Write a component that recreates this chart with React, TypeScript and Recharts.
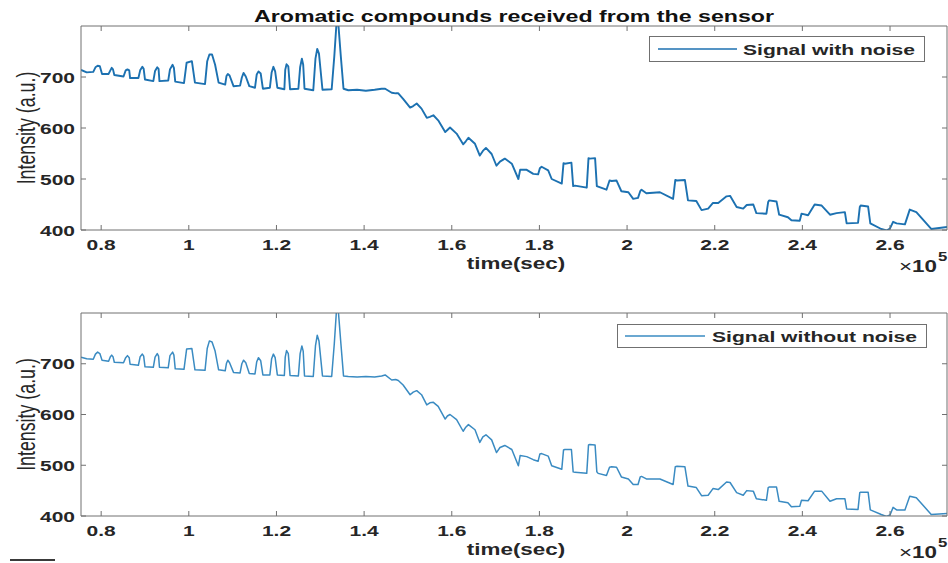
import { LineChart, Line, XAxis, YAxis, Legend } from 'recharts'

// time axis is in units of 1e5 s (the figure shows "x10^5")
const timeE5 = [
  0.754, 0.767, 0.782, 0.787, 0.792, 0.797, 0.802, 0.817, 0.821, 0.824,
  0.827, 0.83, 0.851, 0.856, 0.86, 0.864, 0.866, 0.885, 0.889, 0.894,
  0.897, 0.9, 0.919, 0.923, 0.928, 0.931, 0.933, 0.953, 0.957, 0.963,
  0.966, 0.969, 0.989, 0.995, 1.007, 1.014, 1.037, 1.042, 1.047, 1.053,
  1.06, 1.068, 1.083, 1.086, 1.089, 1.093, 1.102, 1.117, 1.121, 1.125,
  1.13, 1.138, 1.151, 1.155, 1.159, 1.164, 1.169, 1.185, 1.189, 1.193,
  1.197, 1.202, 1.218, 1.22, 1.223, 1.227, 1.231, 1.25, 1.254, 1.258,
  1.261, 1.264, 1.284, 1.289, 1.293, 1.297, 1.305, 1.326, 1.332, 1.337,
  1.341, 1.347, 1.353, 1.364, 1.384, 1.404, 1.424, 1.44, 1.448, 1.463,
  1.472, 1.478, 1.489, 1.505, 1.512, 1.52, 1.531, 1.543, 1.55, 1.558,
  1.569, 1.585, 1.59, 1.596, 1.611, 1.626, 1.632, 1.638, 1.653, 1.664,
  1.671, 1.678, 1.691, 1.702, 1.71, 1.721, 1.737, 1.752, 1.756, 1.771,
  1.786, 1.797, 1.801, 1.805, 1.82, 1.828, 1.851, 1.855, 1.858, 1.873,
  1.877, 1.881, 1.908, 1.912, 1.915, 1.927, 1.931, 1.934, 1.953, 1.96,
  1.965, 1.976, 1.987, 2.003, 2.014, 2.025, 2.03, 2.033, 2.044, 2.075,
  2.105, 2.11, 2.114, 2.132, 2.139, 2.158, 2.17, 2.185, 2.196, 2.208,
  2.227, 2.235, 2.25, 2.265, 2.273, 2.288, 2.295, 2.318, 2.322, 2.324,
  2.341, 2.347, 2.367, 2.375, 2.394, 2.398, 2.413, 2.428, 2.444, 2.463,
  2.478, 2.497, 2.501, 2.527, 2.531, 2.533, 2.55, 2.555, 2.58, 2.592,
  2.6, 2.607, 2.615, 2.634, 2.645, 2.66, 2.694, 2.732,
]

const noisyIntensity = [
  714, 709, 710, 719, 722, 721, 706, 706, 713, 718,
  715, 704, 701, 713, 715, 713, 698, 698, 713, 720,
  716, 695, 692, 712, 719, 716, 692, 693, 715, 724,
  718, 691, 688, 728, 731, 689, 686, 731, 744, 744,
  724, 689, 685, 702, 706, 703, 682, 683, 699, 708,
  701, 682, 679, 705, 711, 707, 677, 679, 709, 720,
  711, 679, 676, 714, 725, 721, 676, 677, 719, 736,
  724, 677, 674, 736, 755, 746, 675, 676, 741, 806,
  806, 739, 677, 674, 675, 673, 675, 677, 677, 669,
  668, 668, 657, 640, 643, 648, 638, 620, 622, 625,
  615, 592, 596, 601, 589, 568, 574, 581, 569, 546,
  555, 561, 549, 526, 534, 540, 530, 500, 518, 518,
  510, 509, 521, 524, 517, 500, 491, 531, 530, 532,
  486, 487, 483, 541, 540, 541, 486, 485, 479, 497,
  496, 497, 476, 474, 461, 463, 476, 479, 472, 474,
  461, 498, 497, 498, 458, 457, 439, 442, 453, 453,
  466, 467, 445, 442, 449, 450, 433, 432, 455, 458,
  456, 430, 425, 419, 418, 432, 429, 450, 448, 430,
  433, 435, 413, 414, 445, 448, 446, 413, 402, 399,
  403, 416, 413, 411, 440, 435, 402, 406,
]

const cleanIntensity = [
  713, 710, 709, 719, 723, 720, 707, 705, 714, 717,
  714, 703, 702, 712, 716, 712, 699, 697, 714, 719,
  715, 694, 693, 713, 720, 715, 693, 692, 716, 723,
  717, 690, 689, 729, 730, 688, 687, 730, 745, 743,
  725, 688, 686, 701, 707, 702, 683, 682, 700, 707,
  702, 681, 680, 704, 712, 706, 678, 678, 710, 719,
  712, 678, 677, 713, 726, 720, 677, 676, 720, 735,
  725, 676, 675, 735, 756, 745, 676, 675, 740, 806,
  806, 740, 676, 675, 674, 675, 674, 676, 678, 668,
  669, 667, 658, 639, 644, 647, 639, 619, 623, 624,
  616, 591, 597, 600, 590, 567, 575, 580, 570, 545,
  556, 560, 550, 525, 535, 539, 531, 499, 519, 517,
  511, 508, 522, 523, 518, 499, 492, 530, 531, 531,
  487, 486, 484, 540, 541, 540, 487, 484, 480, 496,
  497, 496, 477, 473, 462, 462, 477, 478, 473, 473,
  462, 497, 498, 497, 459, 456, 440, 441, 454, 452,
  467, 466, 446, 441, 450, 449, 434, 431, 456, 457,
  457, 429, 426, 418, 419, 431, 430, 449, 449, 429,
  434, 434, 414, 413, 446, 447, 447, 412, 403, 399,
  402, 417, 412, 412, 439, 436, 403, 405,
]

const timeTicks = [0.8, 1, 1.2, 1.4, 1.6, 1.8, 2, 2.2, 2.4, 2.6]
const intensityTicks = [400, 500, 600, 700]
const timeDomain = [0.754, 2.73]
const intensityDomain = [400, 800]

const TITLE = 'Aromatic compounds received from the sensor'

const noisyData = timeE5.map((t, i) => ({ t, v: noisyIntensity[i] }))
const cleanData = timeE5.map((t, i) => ({ t, v: cleanIntensity[i] }))

// the original figure is stretched sideways, so text is widened to match
const STRETCH = 1.4
const FONT = '"Liberation Sans", Arial, Helvetica, sans-serif'
const INK = '#262626'
const AXIS = '#707070'
const TICK_LEN = 5

const BottomTick = ({ x, y, payload }: any) => (
  <g>
    <line x1={x} y1={y} x2={x} y2={y - TICK_LEN} stroke={AXIS} />
    <text
      transform={`translate(${x},${y + 20}) scale(${STRETCH},1)`}
      textAnchor="middle"
      fontFamily={FONT}
      fontSize={15}
      fontWeight="bold"
      fill={INK}
    >
      {String(payload.value)}
    </text>
  </g>
)

const TopTick = ({ x, y }: any) => (
  <line x1={x} y1={y} x2={x} y2={y + TICK_LEN} stroke={AXIS} />
)

const LeftTick = ({ x, y, payload }: any) => (
  <g>
    <line x1={x} y1={y} x2={x + TICK_LEN} y2={y} stroke={AXIS} />
    <text
      transform={`translate(${x - 6},${y + 5.5}) scale(${STRETCH},1)`}
      textAnchor="end"
      fontFamily={FONT}
      fontSize={15}
      fontWeight="bold"
      fill={INK}
    >
      {String(payload.value)}
    </text>
  </g>
)

const RightTick = ({ x, y }: any) => (
  <line x1={x} y1={y} x2={x - TICK_LEN} y2={y} stroke={AXIS} />
)

const TitleLabel = ({ viewBox }: any) => (
  <text
    x={viewBox.x + viewBox.width / 2}
    y={viewBox.y + viewBox.height - 4.5}
    textAnchor="middle"
    fontFamily={FONT}
    fontSize={16}
    fontWeight="bold"
    fill="#111"
    textLength={520}
    lengthAdjust="spacingAndGlyphs"
  >
    {TITLE}
  </text>
)

const TimeLabel = ({ viewBox }: any) => {
  const cx = viewBox.x + viewBox.width / 2
  const right = viewBox.x + viewBox.width
  return (
    <g fontFamily={FONT} fill={INK}>
      <text
        transform={`translate(${cx + 2},${viewBox.y + 39}) scale(${STRETCH},1)`}
        textAnchor="middle"
        fontSize={16}
        fontWeight="bold"
      >
        time(sec)
      </text>
      <text
        transform={`translate(${right - 10},${viewBox.y + 42}) scale(${STRETCH},1)`}
        textAnchor="end"
        fontSize={16}
      >
        ×<tspan fontWeight="bold">10</tspan>
      </text>
      <text
        transform={`translate(${right - 9},${viewBox.y + 31}) scale(${STRETCH},1)`}
        fontSize={12}
        fontWeight="bold"
      >
        5
      </text>
    </g>
  )
}

const IntensityLabel = ({ viewBox }: any) => (
  <text
    transform={`translate(35,${viewBox.y + viewBox.height / 2}) scale(${STRETCH},1) rotate(-90)`}
    textAnchor="middle"
    fontFamily={FONT}
    fontSize={17.8}
    fill={INK}
  >
    Intensity (a.u.)
  </text>
)

const LegendBox = ({ payload, box }: any) => {
  const item = payload?.[0]
  return (
    <svg width={box.width} height={box.height} style={{ display: 'block' }}>
      <rect
        x={0.5}
        y={0.5}
        width={box.width - 1}
        height={box.height - 1}
        fill="#fff"
        stroke={AXIS}
      />
      <line
        x1={box.lineFrom}
        x2={box.lineTo}
        y1={box.height / 2}
        y2={box.height / 2}
        stroke={item?.color}
        strokeWidth={1.3}
      />
      <text
        x={box.textX}
        y={box.baseline}
        fontFamily={FONT}
        fontSize={15}
        fontWeight="bold"
        fill={INK}
        textLength={box.textWidth}
        lengthAdjust="spacingAndGlyphs"
      >
        {item?.value}
      </text>
    </svg>
  )
}

// axes are 1px thick so Recharts draws them; the margins are reduced by the same pixel
function Panel({ data, name, color, strokeWidth, height, margin, box, title }: any) {
  return (
    <LineChart width={948} height={height} data={data} margin={margin}>
      <XAxis
        xAxisId="top"
        orientation="top"
        type="number"
        dataKey="t"
        domain={timeDomain}
        ticks={timeTicks}
        interval={0}
        height={1}
        tickSize={0}
        tickMargin={0}
        tickLine={false}
        axisLine={{ stroke: AXIS }}
        tick={TopTick}
        allowDataOverflow
        label={title ? <TitleLabel /> : undefined}
      />
      <XAxis
        xAxisId="bottom"
        orientation="bottom"
        type="number"
        dataKey="t"
        domain={timeDomain}
        ticks={timeTicks}
        interval={0}
        height={1}
        tickSize={0}
        tickMargin={0}
        tickLine={false}
        axisLine={{ stroke: AXIS }}
        tick={BottomTick}
        allowDataOverflow
        label={<TimeLabel />}
      />
      <YAxis
        yAxisId="left"
        orientation="left"
        type="number"
        domain={intensityDomain}
        ticks={intensityTicks}
        interval={0}
        width={1}
        tickSize={0}
        tickMargin={0}
        tickLine={false}
        axisLine={{ stroke: AXIS }}
        tick={LeftTick}
        allowDataOverflow
        label={<IntensityLabel />}
      />
      <YAxis
        yAxisId="right"
        orientation="right"
        type="number"
        domain={intensityDomain}
        ticks={intensityTicks}
        interval={0}
        width={1}
        tickSize={0}
        tickMargin={0}
        tickLine={false}
        axisLine={{ stroke: AXIS }}
        tick={RightTick}
        allowDataOverflow
      />
      <Legend
        layout="vertical"
        align="center"
        verticalAlign="middle"
        wrapperStyle={{ left: box.left, top: box.top, width: box.width, height: box.height }}
        content={(props: any) => <LegendBox payload={props.payload} box={box} />}
      />
      <Line
        xAxisId="bottom"
        yAxisId="left"
        type="linear"
        dataKey="v"
        name={name}
        stroke={color}
        strokeWidth={strokeWidth}
        strokeLinejoin="round"
        dot={false}
        activeDot={false}
        isAnimationActive={false}
      />
    </LineChart>
  )
}

const topLegend = {
  left: 649, top: 36, width: 276, height: 26,
  lineFrom: 9, lineTo: 88, textX: 94, baseline: 19, textWidth: 172,
}
const bottomLegend = {
  left: 617, top: 38, width: 310, height: 24,
  lineFrom: 8, lineTo: 88, textX: 95, baseline: 17.7, textWidth: 205,
}

export default function App() {
  return (
    <div
      style={{
        position: 'absolute',
        left: 0,
        top: 0,
        width: 948,
        height: 563,
        background: '#fff',
        overflow: 'hidden',
      }}
    >
      <div style={{ position: 'absolute', left: 0, top: 0 }}>
        <Panel
          data={noisyData}
          name="Signal with noise"
          color="#1c71b1"
          strokeWidth={1.9}
          height={286}
          margin={{ top: 25, right: 0, bottom: 55, left: 80 }}
          box={topLegend}
          title
        />
      </div>
      <div style={{ position: 'absolute', left: 0, top: 286 }}>
        <Panel
          data={cleanData}
          name="Signal without noise"
          color="#3a8bc2"
          strokeWidth={1.5}
          height={277}
          margin={{ top: 26, right: 0, bottom: 46, left: 80 }}
          box={bottomLegend}
        />
      </div>
      <div
        style={{
          position: 'absolute',
          left: 10,
          top: 559,
          width: 45,
          height: 0,
          borderTop: '2px solid #3a3a3a',
        }}
      />
    </div>
  )
}
